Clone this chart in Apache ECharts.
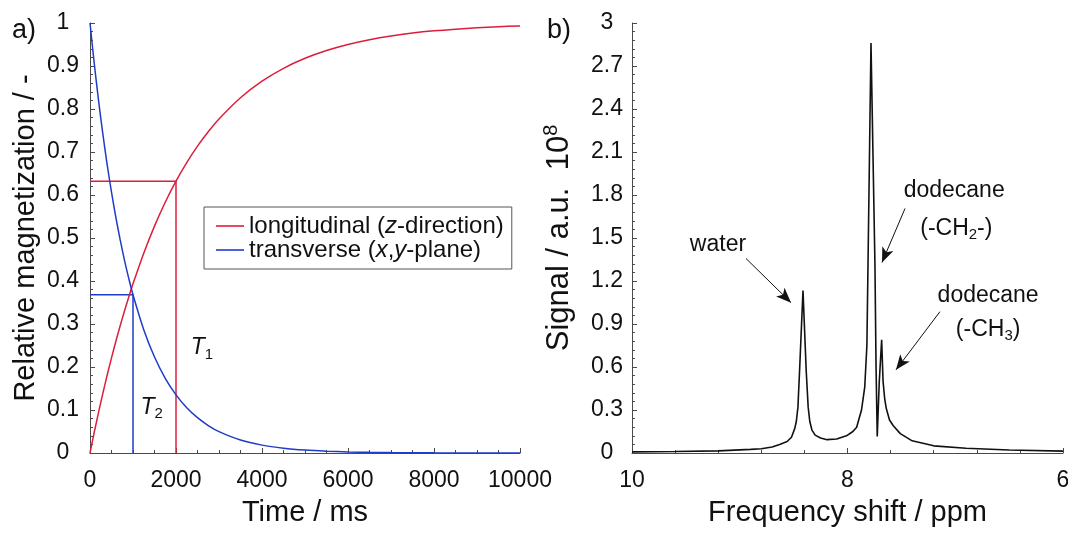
<!DOCTYPE html>
<html>
<head>
<meta charset="utf-8">
<script src="https://cdn.jsdelivr.net/npm/echarts@6/dist/echarts.min.js"></script>
<style>
  html, body { margin: 0; padding: 0; background: #fff; }
  #chart { width: 1068px; height: 537px; }
</style>
</head>
<body>
<div id="chart"></div>
<script>
// ---- a) relaxation curves ----
const timeMs = [0, 100, 200, 300, 400, 500, 600, 700, 800, 900, 1000, 1250, 1500, 1750, 2000,
  2250, 2500, 2750, 3000, 3500, 4000, 4500, 5000, 5500, 6000, 6500, 7000, 7500, 8000, 8500,
  9000, 9500, 10000];
const longitudinal = [0, 0.0488, 0.0952, 0.1393, 0.1813, 0.2212, 0.2592, 0.2953, 0.3297, 0.3624,
  0.3935, 0.4647, 0.5276, 0.5831, 0.6321, 0.6753, 0.7135, 0.7471, 0.7769, 0.8262, 0.8647, 0.8946,
  0.9179, 0.9361, 0.9502, 0.9612, 0.9698, 0.9765, 0.9817, 0.9857, 0.9889, 0.9913, 0.9933];
const transverse = [1, 0.9048, 0.8187, 0.7408, 0.6703, 0.6065, 0.5488, 0.4966, 0.4493, 0.4066,
  0.3679, 0.2865, 0.2231, 0.1738, 0.1353, 0.1054, 0.0821, 0.0639, 0.0498, 0.0302, 0.0183, 0.0111,
  0.0067, 0.0041, 0.0025, 0.0015, 0.0009, 0.0006, 0.0003, 0.0002, 0.0001, 0.0001, 0];

// relaxation times and the levels reached there
const T1 = 2000;
const T2 = 1000;
const longitudinalAtT1 = 0.632;
const transverseAtT2 = 0.368;

// ---- b) spectrum ----
const ppmShift = [10.0, 9.6, 9.2, 8.9, 8.8, 8.7, 8.63, 8.56, 8.52, 8.49, 8.475, 8.46, 8.445, 8.413,
  8.383, 8.365, 8.35, 8.33, 8.30, 8.25, 8.19, 8.1, 8.01, 7.95, 7.915, 7.87, 7.84, 7.82, 7.81, 7.782,
  7.745, 7.735, 7.724, 7.705, 7.683, 7.67, 7.655, 7.64, 7.61, 7.575, 7.51, 7.4, 7.2, 6.9, 6.5, 6.0];
const signal = [0.008, 0.010, 0.015, 0.025, 0.030, 0.042, 0.060, 0.080, 0.110, 0.170, 0.220, 0.320,
  0.570, 1.134, 0.570, 0.320, 0.220, 0.160, 0.125, 0.105, 0.093, 0.098, 0.120, 0.150, 0.180, 0.300,
  0.460, 0.750, 1.300, 2.860, 1.300, 0.600, 0.116, 0.500, 0.790, 0.500, 0.380, 0.310, 0.230, 0.190,
  0.135, 0.085, 0.050, 0.033, 0.021, 0.013];

// peak annotations: text lines with their anchors, and arrow (from -> to) in ppm / signal units
const peakNotes = [
  { lines: ['water'], at: [[9.202, 1.455]], from: [8.942, 1.357], to: [8.524, 1.049] },
  { lines: ['dodecane', '(-CH{sub|2}-)'], at: [[7.010, 1.832], [6.990, 1.566]], from: [7.466, 1.706], to: [7.680, 1.329] },
  { lines: ['dodecane', '(-CH{sub|3})'], at: [[6.695, 1.098], [6.695, 0.860]], from: [7.142, 0.986], to: [7.550, 0.580] }
];

const FONT = '"Liberation Sans", Arial, Helvetica, sans-serif';
const RED = '#dc1e3c';
const BLUE = '#1e3cc8';
const AXIS = '#4a4a4a';
const INK = '#111';

const zip = (xs, ys) => xs.map((x, i) => [x, ys[i]]);

function axisBase(minorSplit) {
  return {
    axisLine: { show: true, onZero: false, lineStyle: { color: AXIS, width: 1 } },
    axisTick: { show: true, inside: true, length: 5, lineStyle: { color: AXIS, width: 1 } },
    minorTick: { show: true, splitNumber: minorSplit, length: 3, lineStyle: { color: AXIS, width: 1 } },
    splitLine: { show: false },
    nameLocation: 'middle',
    nameTextStyle: { color: INK, fontSize: 29, fontFamily: FONT }
  };
}

const subRich = {
  n: { fontSize: 23, fontFamily: FONT, color: INK, lineHeight: 28 },
  i: { fontSize: 23, fontFamily: FONT, color: INK, fontStyle: 'italic', lineHeight: 28 },
  sub: { fontSize: 15, fontFamily: FONT, color: INK, lineHeight: 14, verticalAlign: 'bottom' }
};

const noteLabels = [];
peakNotes.forEach(note => {
  note.lines.forEach((line, k) => {
    const body = line.replace(/^([^{]*)\{sub\|(\d)\}(.*)$/, '{n|$1}{sub|$2}{n|$3}');
    noteLabels.push({
      coord: note.at[k],
      label: { formatter: body.startsWith('{') ? body : '{n|' + body + '}' }
    });
  });
});

const chart = echarts.init(document.getElementById('chart'), null, { renderer: 'canvas' });

chart.setOption({
  animation: false,
  backgroundColor: '#fff',
  textStyle: { fontFamily: FONT },
  title: [
    { text: 'a)', left: 7, top: 12, textStyle: { fontSize: 27, fontWeight: 'normal', color: INK, fontFamily: FONT } },
    { text: 'b)', left: 542, top: 12, textStyle: { fontSize: 27, fontWeight: 'normal', color: INK, fontFamily: FONT } }
  ],
  legend: {
    data: ['longitudinal', 'transverse'],
    orient: 'vertical',
    left: 204,
    top: 207,
    padding: [7, 8, 7, 12],
    itemGap: 0,
    itemWidth: 28,
    itemHeight: 1.6,
    icon: 'rect',
    borderColor: '#555',
    borderWidth: 1,
    borderRadius: 0,
    formatter: name => name === 'longitudinal'
      ? '{n|longitudinal (}{i|z}{n|-direction)}'
      : '{n|transverse (}{i|x}{n|,}{i|y}{n|-plane)}',
    textStyle: {
      rich: {
        n: { fontSize: 24, fontFamily: FONT, color: INK, lineHeight: 25 },
        i: { fontSize: 24, fontFamily: FONT, color: INK, fontStyle: 'italic', lineHeight: 25 }
      }
    }
  },
  grid: [
    { left: 90, right: 548, top: 23, bottom: 84, outerBoundsMode: 'none' },
    { left: 632, right: 5, top: 23, bottom: 84, outerBoundsMode: 'none' }
  ],
  xAxis: [
    Object.assign(axisBase(4), {
      gridIndex: 0, type: 'value', min: 0, max: 10000, interval: 2000,
      name: 'Time / ms', nameGap: 45,
      axisLabel: { color: INK, fontSize: 23, fontFamily: FONT, margin: 16, formatter: v => String(v) }
    }),
    Object.assign(axisBase(5), {
      gridIndex: 1, type: 'value', min: 6, max: 10, interval: 2, inverse: true,
      name: 'Frequency shift / ppm', nameGap: 45,
      axisLabel: { color: INK, fontSize: 23, fontFamily: FONT, margin: 16, formatter: v => String(v) }
    })
  ],
  yAxis: [
    Object.assign(axisBase(5), {
      gridIndex: 0, type: 'value', min: 0, max: 1, interval: 0.1,
      name: 'Relative magnetization / -', nameGap: 50,
      axisLabel: { color: INK, fontSize: 23, fontFamily: FONT, margin: 27, align: 'center' }
    }),
    Object.assign(axisBase(5), {
      gridIndex: 1, type: 'value', min: 0, max: 3, interval: 0.3,
      name: '{n|Signal / a.u.  10}{sup|8}', nameGap: 55,
      nameTextStyle: {
        color: INK, fontSize: 31, fontFamily: FONT,
        rich: {
          n: { fontSize: 31, fontFamily: FONT, color: INK, lineHeight: 36 },
          sup: { fontSize: 20, fontFamily: FONT, color: INK, lineHeight: 22, verticalAlign: 'top' }
        }
      },
      axisLabel: { color: INK, fontSize: 23, fontFamily: FONT, margin: 25, align: 'center' }
    })
  ],
  series: [
    {
      name: 'T1 guide', type: 'line', xAxisIndex: 0, yAxisIndex: 0, silent: true,
      symbol: 'none', lineStyle: { color: RED, width: 1.5 }, itemStyle: { color: RED },
      data: [[0, longitudinalAtT1], [T1, longitudinalAtT1], [T1, 0]],
      markPoint: {
        symbol: 'circle', symbolSize: 1, itemStyle: { color: 'rgba(0,0,0,0)' },
        label: { show: true, position: 'inside', formatter: '{i|T}{sub|1}', rich: subRich },
        data: [{ coord: [2605, 0.244] }]
      }
    },
    {
      name: 'T2 guide', type: 'line', xAxisIndex: 0, yAxisIndex: 0, silent: true,
      symbol: 'none', lineStyle: { color: BLUE, width: 1.5 }, itemStyle: { color: BLUE },
      data: [[0, transverseAtT2], [T2, transverseAtT2], [T2, 0]],
      markPoint: {
        symbol: 'circle', symbolSize: 1, itemStyle: { color: 'rgba(0,0,0,0)' },
        label: { show: true, position: 'inside', formatter: '{i|T}{sub|2}', rich: subRich },
        data: [{ coord: [1435, 0.105] }]
      }
    },
    {
      name: 'longitudinal', type: 'line', xAxisIndex: 0, yAxisIndex: 0,
      symbol: 'none', smooth: 0.3,
      lineStyle: { color: RED, width: 1.5 }, itemStyle: { color: RED },
      data: zip(timeMs, longitudinal)
    },
    {
      name: 'transverse', type: 'line', xAxisIndex: 0, yAxisIndex: 0,
      symbol: 'none', smooth: 0.3,
      lineStyle: { color: BLUE, width: 1.5 }, itemStyle: { color: BLUE },
      data: zip(timeMs, transverse)
    },
    {
      name: 'spectrum', type: 'line', xAxisIndex: 1, yAxisIndex: 1,
      symbol: 'none', lineStyle: { color: INK, width: 1.6 }, itemStyle: { color: INK },
      data: zip(ppmShift, signal),
      markLine: {
        silent: true,
        symbol: ['none', 'arrow'],
        symbolSize: [9, 15],
        label: { show: false },
        lineStyle: { color: INK, width: 1, type: 'solid' },
        data: peakNotes.map(n => [{ coord: n.from }, { coord: n.to }])
      },
      markPoint: {
        symbol: 'circle', symbolSize: 1, itemStyle: { color: 'rgba(0,0,0,0)' },
        label: { show: true, position: 'inside', rich: subRich },
        data: noteLabels
      }
    }
  ]
});
</script>
</body>
</html>
